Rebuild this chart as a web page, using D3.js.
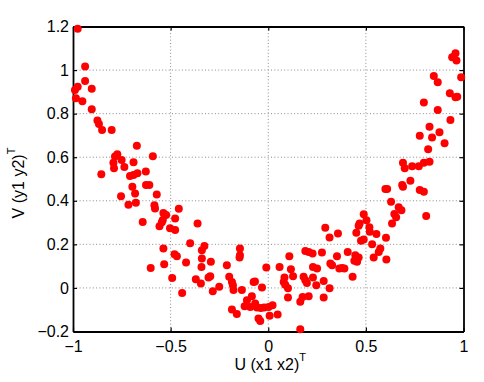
<!DOCTYPE html>
<html>
<head>
<meta charset="utf-8">
<script src="https://cdn.jsdelivr.net/npm/d3@7"></script>
<style>
  html, body { margin: 0; padding: 0; background: #ffffff; }
  svg { display: block; }
  text { font-family: "Liberation Sans", Arial, Helvetica, sans-serif; }
</style>
</head>
<body>
<svg id="chart" width="484" height="382"></svg>
<script>
// ---- data ----
const uValues = [
  -0.976, -0.938, -0.938, -0.904, -0.976, -0.99, -0.985, -0.952, -0.904, -0.875,
  -0.867, -0.851, -0.802, -0.673, -0.591, -0.773, -0.785, -0.751, -0.793, -0.69,
  -0.737, -0.79, -0.855, -0.708, -0.69, -0.67, -0.627,
  -0.696, -0.626, -0.609, -0.682, -0.571, -0.754, -0.716, -0.678, -0.583, -0.58,
  -0.537, -0.523, -0.458, -0.477, -0.54, -0.545, -0.643, -0.557, -0.503, -0.477,
  -0.362, -0.4, -0.537, -0.48, -0.468, -0.421, -0.533, -0.602, -0.492, -0.371,
  -0.441,
  -0.327, -0.34, -0.34, -0.145, -0.145, -0.147, -0.294, -0.342, -0.212, -0.345,
  -0.306, -0.297, -0.284, -0.251, -0.2, -0.186, -0.181, -0.178, -0.135, -0.075,
  -0.068, -0.032, -0.01, -0.084, -0.109, -0.121, -0.092, -0.058, -0.038, -0.021,
  0.002, 0.022, -0.067, -0.186, -0.161, -0.05, -0.041, 0.007, 0.048, 0.164,
  0.058, 0.108, 0.116, 0.127, 0.083, 0.079, 0.087, 0.101, 0.101, 0.164,
  0.176, 0.207, 0.19, 0.207, 0.227, 0.275, 0.181, 0.19, 0.198, 0.229,
  0.25, 0.229, 0.246, 0.284, 0.284, 0.314, 0.318, 0.327, 0.352, 0.364,
  0.292, 0.357, 0.314,
  0.6, 0.609, 0.686, 0.69, 0.728, 0.776, 0.797, 0.629, 0.668, 0.682,
  0.646, 0.655, 0.809, 0.634, 0.489, 0.503, 0.468, 0.463, 0.518, 0.52,
  0.451, 0.554, 0.489, 0.475, 0.603, 0.532, 0.574, 0.566, 0.407, 0.446,
  0.463, 0.455, 0.441, 0.54, 0.605, 0.378, 0.39, 0.432,
  0.959, 0.942, 0.964, 0.848, 0.868, 0.988, 0.93, 0.959, 0.968, 0.797,
  0.868, 0.933, 0.826, 0.776, 0.839, 0.877, 0.903, 0.819, 0.69, 0.699,
  0.737, 0.771, 0.797, 0.826
];
const vValues = [
  1.19, 1.016, 0.95, 0.914, 0.924, 0.909, 0.871, 0.857, 0.82, 0.768,
  0.752, 0.725, 0.725, 0.653, 0.605, 0.614, 0.603, 0.587, 0.575, 0.577,
  0.555, 0.549, 0.522, 0.514, 0.518, 0.526, 0.534,
  0.465, 0.473, 0.473, 0.434, 0.429, 0.421, 0.382, 0.391, 0.38, 0.365,
  0.344, 0.335, 0.363, 0.319, 0.312, 0.301, 0.303, 0.283, 0.274, 0.266,
  0.296, 0.205, 0.181, 0.155, 0.145, 0.117, 0.109, 0.092, 0.046, 0.04,
  -0.023,
  0.193, 0.173, 0.135, 0.181, 0.15, 0.14, 0.12, 0.096, 0.104, 0.02,
  0.048, 0.054, -0.015, 0.005, 0.051, 0.027, 0.012, -0.01, -0.01, 0.027,
  0.03, 0.002, 0.094, -0.038, -0.057, -0.084, -0.087, -0.09, -0.092, -0.09,
  -0.087, -0.079, -0.071, -0.099, -0.12, -0.14, -0.152, -0.128, -0.122, -0.19,
  0.096, 0.145, 0.086, 0.054, 0.048, 0.027, 0.015, -0.002, -0.044, -0.064,
  -0.042, -0.038, 0.17, 0.165, 0.158, 0.163, 0.051, 0.035, 0.023, 0.096,
  0.089, 0.048, 0.012, 0.032, -0.044, -0.002, 0.112, 0.104, 0.145, 0.089,
  0.276, 0.25, 0.232,
  0.454, 0.454, 0.472, 0.465, 0.492, 0.449, 0.441, 0.396, 0.37, 0.357,
  0.339, 0.324, 0.33, 0.296, 0.338, 0.311, 0.296, 0.285, 0.278, 0.258,
  0.253, 0.247, 0.222, 0.216, 0.23, 0.2, 0.181, 0.165, 0.165, 0.15,
  0.14, 0.12, 0.125, 0.14, 0.131, 0.092, 0.089, 0.051,
  1.077, 1.059, 1.044, 0.973, 0.944, 0.967, 0.894, 0.875, 0.878, 0.851,
  0.817, 0.771, 0.74, 0.699, 0.691, 0.715, 0.664, 0.636, 0.575, 0.549,
  0.558, 0.559, 0.575, 0.579
];
const xTicks = [-1, -0.5, 0, 0.5, 1];
const xTickLabels = ["\u22121", "\u22120.5", "0", "0.5", "1"];
const yTicks = [-0.2, 0, 0.2, 0.4, 0.6, 0.8, 1, 1.2];
const yTickLabels = ["\u22120.2", "0", "0.2", "0.4", "0.6", "0.8", "1", "1.2"];
const xLabelMain = "U (x1 x2)";
const yLabelMain = "V (y1 y2)";
const labelSup = "T";

// ---- layout ----
const pL = 73, pR = 463.5, pT = 26.5, pB = 331.5;
const svg = d3.select("#chart");

const x = d3.scaleLinear().domain([-1, 1]).range([pL, pR]);
const y = d3.scaleLinear().domain([-0.2, 1.2]).range([pB, pT]);

// grid
const grid = svg.append("g");
grid.selectAll("line.gx").data(xTicks.slice(1, -1)).enter().append("line")
  .attr("x1", d => x(d)).attr("x2", d => x(d))
  .attr("y1", pT).attr("y2", pB)
  .attr("stroke", "#8a8a8a").attr("stroke-width", 1)
  .attr("stroke-dasharray", "1,2.3");
grid.selectAll("line.gy").data(yTicks.slice(1, -1)).enter().append("line")
  .attr("y1", d => y(d)).attr("y2", d => y(d))
  .attr("x1", pL).attr("x2", pR)
  .attr("stroke", "#8a8a8a").attr("stroke-width", 1)
  .attr("stroke-dasharray", "1,2.3");

// axes (ticks inside, box on all four sides)
const fs = 16;
function styleAxis(g) {
  g.select(".domain").attr("stroke", "#000").attr("stroke-width", 1.8);
  g.selectAll(".tick line").attr("stroke", "#000").attr("stroke-width", 1.2);
  g.selectAll(".tick text").attr("fill", "#000").style("font-size", fs + "px")
    .style("font-family", '"Liberation Sans", Arial, Helvetica, sans-serif');
}
const xAxisB = d3.axisBottom(x).tickValues(xTicks).tickFormat((d, i) => xTickLabels[i])
  .tickSizeInner(-4).tickSizeOuter(0).tickPadding(9);
const gxb = svg.append("g").attr("transform", `translate(0,${pB})`).call(xAxisB);
styleAxis(gxb);
const xAxisT = d3.axisTop(x).tickValues(xTicks).tickFormat("").tickSizeInner(-4).tickSizeOuter(0);
const gxt = svg.append("g").attr("transform", `translate(0,${pT})`).call(xAxisT);
styleAxis(gxt);

const yAxisL = d3.axisLeft(y).tickValues(yTicks).tickFormat((d, i) => yTickLabels[i])
  .tickSizeInner(-4).tickSizeOuter(0).tickPadding(4);
const gyl = svg.append("g").attr("transform", `translate(${pL},0)`).call(yAxisL);
styleAxis(gyl);
const yAxisR = d3.axisRight(y).tickValues(yTicks).tickFormat("").tickSizeInner(-4).tickSizeOuter(0);
const gyr = svg.append("g").attr("transform", `translate(${pR},0)`).call(yAxisR);
styleAxis(gyr);

// points
const pts = uValues.map((u, i) => ({ u: u, v: vValues[i] }));
svg.append("g").selectAll("circle").data(pts).enter().append("circle")
  .attr("cx", d => x(d.u)).attr("cy", d => y(d.v))
  .attr("r", 4).attr("fill", "#ff0000");

// axis labels
const xl = svg.append("text")
  .attr("x", (pL + pR) / 2 + 2).attr("y", 370)
  .attr("text-anchor", "middle").style("font-size", fs + "px").attr("fill", "#000");
xl.append("tspan").text(xLabelMain);
xl.append("tspan").attr("dy", -9).style("font-size", "11px").text(labelSup);

const yl = svg.append("text")
  .attr("transform", `translate(24,${(pT + pB) / 2 + 4}) rotate(-90)`)
  .attr("text-anchor", "middle").style("font-size", fs + "px").attr("fill", "#000");
yl.append("tspan").text(yLabelMain);
yl.append("tspan").attr("dy", -9).style("font-size", "11px").text(labelSup);
</script>
</body>
</html>
